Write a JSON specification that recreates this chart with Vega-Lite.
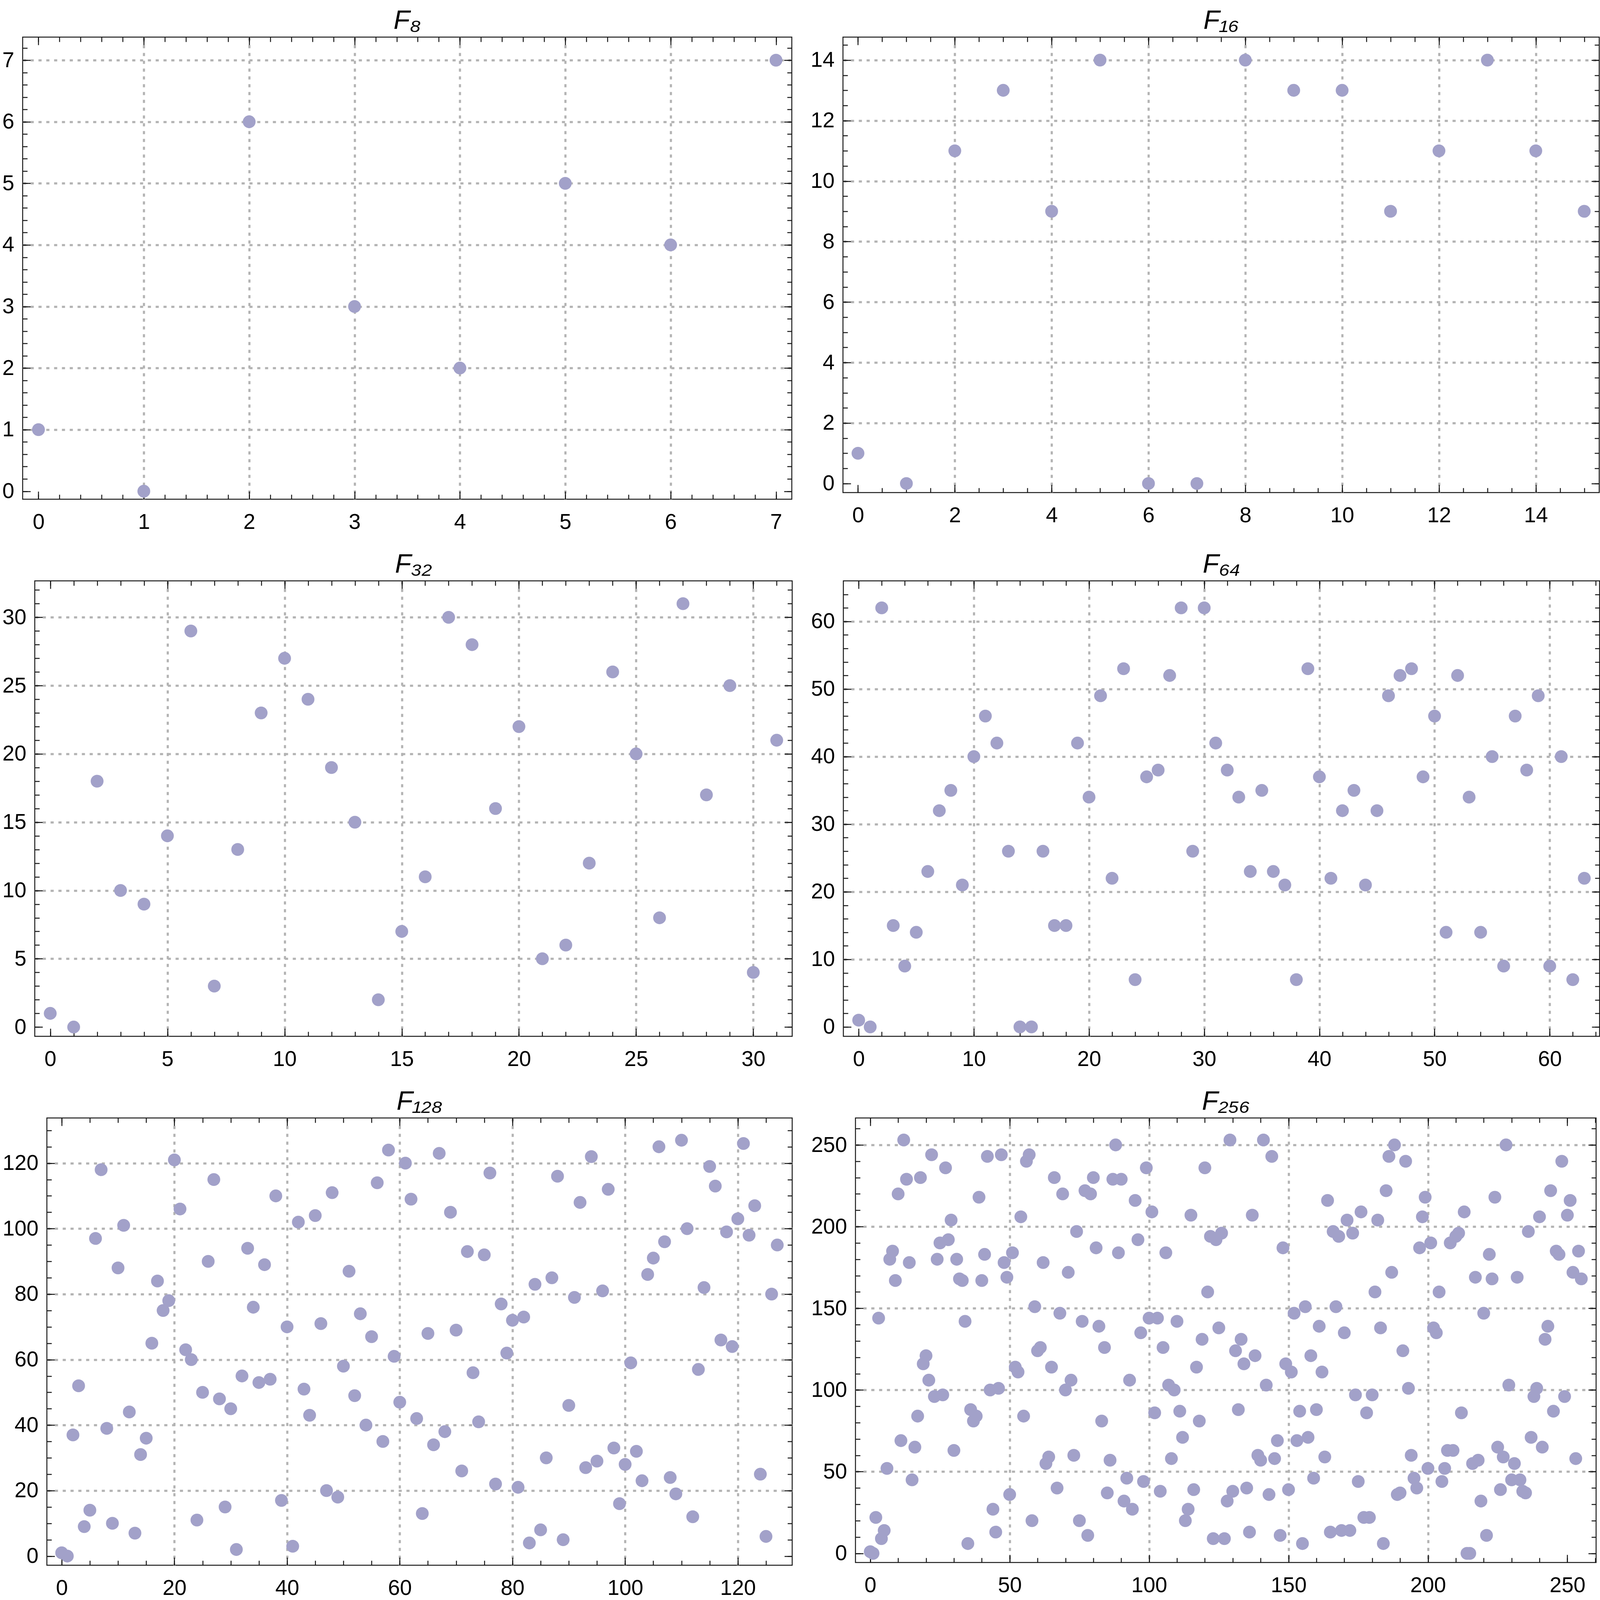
{
  "$schema": "https://vega.github.io/schema/vega-lite/v6.json",
  "background": "white",
  "padding": {"left": 3, "top": 18, "right": 0, "bottom": 0},
  "spacing": 44,
  "datasets": {
    "F8": [{"x":0,"y":1},{"x":1,"y":0},{"x":2,"y":6},{"x":3,"y":3},{"x":4,"y":2},{"x":5,"y":5},{"x":6,"y":4},{"x":7,"y":7}],
    "F16": [{"x":0,"y":1},{"x":1,"y":0},{"x":2,"y":11},{"x":3,"y":13},{"x":4,"y":9},{"x":5,"y":14},{"x":6,"y":0},{"x":7,"y":0},{"x":8,"y":14},{"x":9,"y":13},{"x":10,"y":13},{"x":11,"y":9},{"x":12,"y":11},{"x":13,"y":14},{"x":14,"y":11},{"x":15,"y":9}],
    "F32": [{"x":0,"y":1},{"x":1,"y":0},{"x":2,"y":18},{"x":3,"y":10},{"x":4,"y":9},{"x":5,"y":14},{"x":6,"y":29},{"x":7,"y":3},{"x":8,"y":13},{"x":9,"y":23},{"x":10,"y":27},{"x":11,"y":24},{"x":12,"y":19},{"x":13,"y":15},{"x":14,"y":2},{"x":15,"y":7},{"x":16,"y":11},{"x":17,"y":30},{"x":18,"y":28},{"x":19,"y":16},{"x":20,"y":22},{"x":21,"y":5},{"x":22,"y":6},{"x":23,"y":12},{"x":24,"y":26},{"x":25,"y":20},{"x":26,"y":8},{"x":27,"y":31},{"x":28,"y":17},{"x":29,"y":25},{"x":30,"y":4},{"x":31,"y":21}],
    "F64": [{"x":0,"y":1},{"x":1,"y":0},{"x":2,"y":62},{"x":3,"y":15},{"x":4,"y":9},{"x":5,"y":14},{"x":6,"y":23},{"x":7,"y":32},{"x":8,"y":35},{"x":9,"y":21},{"x":10,"y":40},{"x":11,"y":46},{"x":12,"y":42},{"x":13,"y":26},{"x":14,"y":0},{"x":15,"y":0},{"x":16,"y":26},{"x":17,"y":15},{"x":18,"y":15},{"x":19,"y":42},{"x":20,"y":34},{"x":21,"y":49},{"x":22,"y":22},{"x":23,"y":53},{"x":24,"y":7},{"x":25,"y":37},{"x":26,"y":38},{"x":27,"y":52},{"x":28,"y":62},{"x":29,"y":26},{"x":30,"y":62},{"x":31,"y":42},{"x":32,"y":38},{"x":33,"y":34},{"x":34,"y":23},{"x":35,"y":35},{"x":36,"y":23},{"x":37,"y":21},{"x":38,"y":7},{"x":39,"y":53},{"x":40,"y":37},{"x":41,"y":22},{"x":42,"y":32},{"x":43,"y":35},{"x":44,"y":21},{"x":45,"y":32},{"x":46,"y":49},{"x":47,"y":52},{"x":48,"y":53},{"x":49,"y":37},{"x":50,"y":46},{"x":51,"y":14},{"x":52,"y":52},{"x":53,"y":34},{"x":54,"y":14},{"x":55,"y":40},{"x":56,"y":9},{"x":57,"y":46},{"x":58,"y":38},{"x":59,"y":49},{"x":60,"y":9},{"x":61,"y":40},{"x":62,"y":7},{"x":63,"y":22}],
    "F128": [{"x":0,"y":1},{"x":1,"y":0},{"x":2,"y":37},{"x":3,"y":52},{"x":4,"y":9},{"x":5,"y":14},{"x":6,"y":97},{"x":7,"y":118},{"x":8,"y":39},{"x":9,"y":10},{"x":10,"y":88},{"x":11,"y":101},{"x":12,"y":44},{"x":13,"y":7},{"x":14,"y":31},{"x":15,"y":36},{"x":16,"y":65},{"x":17,"y":84},{"x":18,"y":75},{"x":19,"y":78},{"x":20,"y":121},{"x":21,"y":106},{"x":22,"y":63},{"x":23,"y":60},{"x":24,"y":11},{"x":25,"y":50},{"x":26,"y":90},{"x":27,"y":115},{"x":28,"y":48},{"x":29,"y":15},{"x":30,"y":45},{"x":31,"y":2},{"x":32,"y":55},{"x":33,"y":94},{"x":34,"y":76},{"x":35,"y":53},{"x":36,"y":89},{"x":37,"y":54},{"x":38,"y":110},{"x":39,"y":17},{"x":40,"y":70},{"x":41,"y":3},{"x":42,"y":102},{"x":43,"y":51},{"x":44,"y":43},{"x":45,"y":104},{"x":46,"y":71},{"x":47,"y":20},{"x":48,"y":111},{"x":49,"y":18},{"x":50,"y":58},{"x":51,"y":87},{"x":52,"y":49},{"x":53,"y":74},{"x":54,"y":40},{"x":55,"y":67},{"x":56,"y":114},{"x":57,"y":35},{"x":58,"y":124},{"x":59,"y":61},{"x":60,"y":47},{"x":61,"y":120},{"x":62,"y":109},{"x":63,"y":42},{"x":64,"y":13},{"x":65,"y":68},{"x":66,"y":34},{"x":67,"y":123},{"x":68,"y":38},{"x":69,"y":105},{"x":70,"y":69},{"x":71,"y":26},{"x":72,"y":93},{"x":73,"y":56},{"x":74,"y":41},{"x":75,"y":92},{"x":76,"y":117},{"x":77,"y":22},{"x":78,"y":77},{"x":79,"y":62},{"x":80,"y":72},{"x":81,"y":21},{"x":82,"y":73},{"x":83,"y":4},{"x":84,"y":83},{"x":85,"y":8},{"x":86,"y":30},{"x":87,"y":85},{"x":88,"y":116},{"x":89,"y":5},{"x":90,"y":46},{"x":91,"y":79},{"x":92,"y":108},{"x":93,"y":27},{"x":94,"y":122},{"x":95,"y":29},{"x":96,"y":81},{"x":97,"y":112},{"x":98,"y":33},{"x":99,"y":16},{"x":100,"y":28},{"x":101,"y":59},{"x":102,"y":32},{"x":103,"y":23},{"x":104,"y":86},{"x":105,"y":91},{"x":106,"y":125},{"x":107,"y":96},{"x":108,"y":24},{"x":109,"y":19},{"x":110,"y":127},{"x":111,"y":100},{"x":112,"y":12},{"x":113,"y":57},{"x":114,"y":82},{"x":115,"y":119},{"x":116,"y":113},{"x":117,"y":66},{"x":118,"y":99},{"x":119,"y":64},{"x":120,"y":103},{"x":121,"y":126},{"x":122,"y":98},{"x":123,"y":107},{"x":124,"y":25},{"x":125,"y":6},{"x":126,"y":80},{"x":127,"y":95}],
    "F256": [{"x":0,"y":1},{"x":1,"y":0},{"x":2,"y":22},{"x":3,"y":144},{"x":4,"y":9},{"x":5,"y":14},{"x":6,"y":52},{"x":7,"y":180},{"x":8,"y":185},{"x":9,"y":167},{"x":10,"y":220},{"x":11,"y":69},{"x":12,"y":253},{"x":13,"y":229},{"x":14,"y":178},{"x":15,"y":45},{"x":16,"y":65},{"x":17,"y":84},{"x":18,"y":230},{"x":19,"y":116},{"x":20,"y":121},{"x":21,"y":106},{"x":22,"y":244},{"x":23,"y":96},{"x":24,"y":180},{"x":25,"y":190},{"x":26,"y":97},{"x":27,"y":236},{"x":28,"y":192},{"x":29,"y":204},{"x":30,"y":63},{"x":31,"y":180},{"x":32,"y":168},{"x":33,"y":167},{"x":34,"y":142},{"x":35,"y":6},{"x":36,"y":88},{"x":37,"y":81},{"x":38,"y":84},{"x":39,"y":218},{"x":40,"y":167},{"x":41,"y":183},{"x":42,"y":243},{"x":43,"y":100},{"x":44,"y":27},{"x":45,"y":13},{"x":46,"y":101},{"x":47,"y":244},{"x":48,"y":178},{"x":49,"y":169},{"x":50,"y":36},{"x":51,"y":184},{"x":52,"y":114},{"x":53,"y":111},{"x":54,"y":206},{"x":55,"y":84},{"x":56,"y":240},{"x":57,"y":244},{"x":58,"y":20},{"x":59,"y":151},{"x":60,"y":124},{"x":61,"y":126},{"x":62,"y":178},{"x":63,"y":55},{"x":64,"y":59},{"x":65,"y":114},{"x":66,"y":230},{"x":67,"y":40},{"x":68,"y":147},{"x":69,"y":220},{"x":70,"y":100},{"x":71,"y":172},{"x":72,"y":106},{"x":73,"y":60},{"x":74,"y":197},{"x":75,"y":20},{"x":76,"y":142},{"x":77,"y":222},{"x":78,"y":11},{"x":79,"y":220},{"x":80,"y":230},{"x":81,"y":187},{"x":82,"y":139},{"x":83,"y":81},{"x":84,"y":126},{"x":85,"y":37},{"x":86,"y":57},{"x":87,"y":229},{"x":88,"y":250},{"x":89,"y":184},{"x":90,"y":229},{"x":91,"y":32},{"x":92,"y":46},{"x":93,"y":106},{"x":94,"y":27},{"x":95,"y":216},{"x":96,"y":192},{"x":97,"y":135},{"x":98,"y":44},{"x":99,"y":236},{"x":100,"y":144},{"x":101,"y":209},{"x":102,"y":86},{"x":103,"y":144},{"x":104,"y":38},{"x":105,"y":126},{"x":106,"y":184},{"x":107,"y":103},{"x":108,"y":58},{"x":109,"y":100},{"x":110,"y":142},{"x":111,"y":87},{"x":112,"y":71},{"x":113,"y":20},{"x":114,"y":27},{"x":115,"y":207},{"x":116,"y":39},{"x":117,"y":114},{"x":118,"y":81},{"x":119,"y":131},{"x":120,"y":236},{"x":121,"y":160},{"x":122,"y":194},{"x":123,"y":9},{"x":124,"y":192},{"x":125,"y":138},{"x":126,"y":196},{"x":127,"y":9},{"x":128,"y":32},{"x":129,"y":253},{"x":130,"y":38},{"x":131,"y":124},{"x":132,"y":88},{"x":133,"y":131},{"x":134,"y":116},{"x":135,"y":40},{"x":136,"y":13},{"x":137,"y":207},{"x":138,"y":121},{"x":139,"y":60},{"x":140,"y":57},{"x":141,"y":253},{"x":142,"y":103},{"x":143,"y":36},{"x":144,"y":243},{"x":145,"y":58},{"x":146,"y":69},{"x":147,"y":11},{"x":148,"y":187},{"x":149,"y":116},{"x":150,"y":39},{"x":151,"y":111},{"x":152,"y":147},{"x":153,"y":69},{"x":154,"y":87},{"x":155,"y":6},{"x":156,"y":151},{"x":157,"y":71},{"x":158,"y":121},{"x":159,"y":46},{"x":160,"y":88},{"x":161,"y":139},{"x":162,"y":111},{"x":163,"y":59},{"x":164,"y":216},{"x":165,"y":13},{"x":166,"y":197},{"x":167,"y":151},{"x":168,"y":194},{"x":169,"y":14},{"x":170,"y":135},{"x":171,"y":204},{"x":172,"y":14},{"x":173,"y":196},{"x":174,"y":97},{"x":175,"y":44},{"x":176,"y":209},{"x":177,"y":22},{"x":178,"y":86},{"x":179,"y":22},{"x":180,"y":97},{"x":181,"y":160},{"x":182,"y":204},{"x":183,"y":138},{"x":184,"y":6},{"x":185,"y":222},{"x":186,"y":243},{"x":187,"y":172},{"x":188,"y":250},{"x":189,"y":36},{"x":190,"y":37},{"x":191,"y":124},{"x":192,"y":240},{"x":193,"y":101},{"x":194,"y":60},{"x":195,"y":46},{"x":196,"y":40},{"x":197,"y":187},{"x":198,"y":206},{"x":199,"y":218},{"x":200,"y":52},{"x":201,"y":190},{"x":202,"y":138},{"x":203,"y":135},{"x":204,"y":160},{"x":205,"y":44},{"x":206,"y":52},{"x":207,"y":63},{"x":208,"y":190},{"x":209,"y":63},{"x":210,"y":194},{"x":211,"y":196},{"x":212,"y":86},{"x":213,"y":209},{"x":214,"y":0},{"x":215,"y":0},{"x":216,"y":55},{"x":217,"y":169},{"x":218,"y":57},{"x":219,"y":32},{"x":220,"y":147},{"x":221,"y":11},{"x":222,"y":183},{"x":223,"y":168},{"x":224,"y":218},{"x":225,"y":65},{"x":226,"y":39},{"x":227,"y":59},{"x":228,"y":250},{"x":229,"y":103},{"x":230,"y":45},{"x":231,"y":55},{"x":232,"y":169},{"x":233,"y":45},{"x":234,"y":38},{"x":235,"y":37},{"x":236,"y":197},{"x":237,"y":71},{"x":238,"y":96},{"x":239,"y":101},{"x":240,"y":206},{"x":241,"y":65},{"x":242,"y":131},{"x":243,"y":139},{"x":244,"y":222},{"x":245,"y":87},{"x":246,"y":185},{"x":247,"y":183},{"x":248,"y":240},{"x":249,"y":96},{"x":250,"y":207},{"x":251,"y":216},{"x":252,"y":172},{"x":253,"y":58},{"x":254,"y":185},{"x":255,"y":168}]
  },
  "vconcat": [
    {
      "spacing": 43,
      "hconcat": [
        {
          "spacing": 0,
          "hconcat": [
            {"width": 1, "height": 1, "data": {"values": []}, "mark": "point", "view": {"stroke": null}},
            {
              "title": "F₈",
              "width": 1969, "height": 1183,
              "data": {"name": "F8"},
              "resolve": {"axis": {"x": "independent", "y": "independent"}},
              "layer": [
                {"mark": {"type": "circle", "size": 1075, "color": "#a2a1c9", "opacity": 1},
                 "encoding": {
                   "x": {"field": "x", "type": "quantitative", "title": null, "scale": {"domain": [-0.15, 7.15], "nice": false, "zero": false}, "axis": {"orient": "bottom", "grid": true, "values": [0,1,2,3,4,5,6,7], "gridOpacity": {"condition": {"test": "datum.value <= 0 || datum.value >= 7", "value": 0}, "value": 1}}},
                   "y": {"field": "y", "type": "quantitative", "title": null, "scale": {"domain": [-0.13, 7.375], "nice": false, "zero": false}, "axis": {"orient": "left", "grid": true, "values": [0,1,2,3,4,5,6,7], "gridOpacity": {"condition": {"test": "datum.value <= 0", "value": 0}, "value": 1}}}}},
                {"mark": {"type": "circle", "opacity": 0},
                 "encoding": {
                   "x": {"field": "x", "type": "quantitative", "title": null, "scale": {"domain": [-0.15, 7.15], "nice": false, "zero": false}, "axis": {"orient": "top", "labels": false, "values": [0,1,2,3,4,5,6,7]}},
                   "y": {"field": "y", "type": "quantitative", "title": null, "scale": {"domain": [-0.13, 7.375], "nice": false, "zero": false}, "axis": {"orient": "right", "labels": false, "values": [0,1,2,3,4,5,6,7]}}}},
                {"mark": {"type": "circle", "opacity": 0},
                 "encoding": {
                   "x": {"field": "x", "type": "quantitative", "title": null, "scale": {"domain": [-0.15, 7.15], "nice": false, "zero": false}, "axis": {"orient": "bottom", "labels": false, "tickSize": -12, "values": [0,0.2,0.4,0.6,0.8,1,1.2,1.4,1.6,1.8,2,2.2,2.4,2.6,2.8,3,3.2,3.4,3.6,3.8,4,4.2,4.4,4.6,4.8,5,5.2,5.4,5.6,5.8,6,6.2,6.4,6.6,6.8,7]}},
                   "y": {"field": "y", "type": "quantitative", "title": null, "scale": {"domain": [-0.13, 7.375], "nice": false, "zero": false}, "axis": {"orient": "left", "labels": false, "tickSize": -12, "values": [0,0.2,0.4,0.6,0.8,1,1.2,1.4,1.6,1.8,2,2.2,2.4,2.6,2.8,3,3.2,3.4,3.6,3.8,4,4.2,4.4,4.6,4.8,5,5.2,5.4,5.6,5.8,6,6.2,6.4,6.6,6.8,7,7.2]}}}},
                {"mark": {"type": "circle", "opacity": 0},
                 "encoding": {
                   "x": {"field": "x", "type": "quantitative", "title": null, "scale": {"domain": [-0.15, 7.15], "nice": false, "zero": false}, "axis": {"orient": "top", "labels": false, "tickSize": -12, "values": [0,0.2,0.4,0.6,0.8,1,1.2,1.4,1.6,1.8,2,2.2,2.4,2.6,2.8,3,3.2,3.4,3.6,3.8,4,4.2,4.4,4.6,4.8,5,5.2,5.4,5.6,5.8,6,6.2,6.4,6.6,6.8,7]}},
                   "y": {"field": "y", "type": "quantitative", "title": null, "scale": {"domain": [-0.13, 7.375], "nice": false, "zero": false}, "axis": {"orient": "right", "labels": false, "tickSize": -12, "values": [0,0.2,0.4,0.6,0.8,1,1.2,1.4,1.6,1.8,2,2.2,2.4,2.6,2.8,3,3.2,3.4,3.6,3.8,4,4.2,4.4,4.6,4.8,5,5.2,5.4,5.6,5.8,6,6.2,6.4,6.6,6.8,7,7.2]}}}}
              ]
            }
          ]
        },
        {
          "title": "F₁₆",
          "width": 1936, "height": 1166,
          "data": {"name": "F16"},
          "resolve": {"axis": {"x": "independent", "y": "independent"}},
          "layer": [
            {"mark": {"type": "circle", "size": 1075, "color": "#a2a1c9", "opacity": 1},
             "encoding": {
               "x": {"field": "x", "type": "quantitative", "title": null, "scale": {"domain": [-0.31, 15.31], "nice": false, "zero": false}, "axis": {"orient": "bottom", "grid": true, "values": [0,2,4,6,8,10,12,14], "gridOpacity": {"condition": {"test": "datum.value <= 0", "value": 0}, "value": 1}}},
               "y": {"field": "y", "type": "quantitative", "title": null, "scale": {"domain": [-0.3, 14.76], "nice": false, "zero": false}, "axis": {"orient": "left", "grid": true, "values": [0,2,4,6,8,10,12,14], "gridOpacity": {"condition": {"test": "datum.value <= 0", "value": 0}, "value": 1}}}}},
            {"mark": {"type": "circle", "opacity": 0},
             "encoding": {
               "x": {"field": "x", "type": "quantitative", "title": null, "scale": {"domain": [-0.31, 15.31], "nice": false, "zero": false}, "axis": {"orient": "top", "labels": false, "values": [0,2,4,6,8,10,12,14]}},
               "y": {"field": "y", "type": "quantitative", "title": null, "scale": {"domain": [-0.3, 14.76], "nice": false, "zero": false}, "axis": {"orient": "right", "labels": false, "values": [0,2,4,6,8,10,12,14]}}}},
            {"mark": {"type": "circle", "opacity": 0},
             "encoding": {
               "x": {"field": "x", "type": "quantitative", "title": null, "scale": {"domain": [-0.31, 15.31], "nice": false, "zero": false}, "axis": {"orient": "bottom", "labels": false, "tickSize": -12, "values": [0,0.5,1,1.5,2,2.5,3,3.5,4,4.5,5,5.5,6,6.5,7,7.5,8,8.5,9,9.5,10,10.5,11,11.5,12,12.5,13,13.5,14,14.5,15]}},
               "y": {"field": "y", "type": "quantitative", "title": null, "scale": {"domain": [-0.3, 14.76], "nice": false, "zero": false}, "axis": {"orient": "left", "labels": false, "tickSize": -12, "values": [0,0.5,1,1.5,2,2.5,3,3.5,4,4.5,5,5.5,6,6.5,7,7.5,8,8.5,9,9.5,10,10.5,11,11.5,12,12.5,13,13.5,14,14.5]}}}},
            {"mark": {"type": "circle", "opacity": 0},
             "encoding": {
               "x": {"field": "x", "type": "quantitative", "title": null, "scale": {"domain": [-0.31, 15.31], "nice": false, "zero": false}, "axis": {"orient": "top", "labels": false, "tickSize": -12, "values": [0,0.5,1,1.5,2,2.5,3,3.5,4,4.5,5,5.5,6,6.5,7,7.5,8,8.5,9,9.5,10,10.5,11,11.5,12,12.5,13,13.5,14,14.5,15]}},
               "y": {"field": "y", "type": "quantitative", "title": null, "scale": {"domain": [-0.3, 14.76], "nice": false, "zero": false}, "axis": {"orient": "right", "labels": false, "tickSize": -12, "values": [0,0.5,1,1.5,2,2.5,3,3.5,4,4.5,5,5.5,6,6.5,7,7.5,8,8.5,9,9.5,10,10.5,11,11.5,12,12.5,13,13.5,14,14.5]}}}}
          ]
        }
      ]
    },
    {
      "spacing": 43,
      "hconcat": [
        {
          "spacing": 0,
          "hconcat": [
            {"width": 1, "height": 1, "data": {"values": []}, "mark": "point", "view": {"stroke": null}},
            {
              "title": "F₃₂",
              "width": 1939, "height": 1166,
              "data": {"name": "F32"},
              "resolve": {"axis": {"x": "independent", "y": "independent"}},
              "layer": [
                {"mark": {"type": "circle", "size": 1075, "color": "#a2a1c9", "opacity": 1},
                 "encoding": {
                   "x": {"field": "x", "type": "quantitative", "title": null, "scale": {"domain": [-0.66, 31.66], "nice": false, "zero": false}, "axis": {"orient": "bottom", "grid": true, "values": [0,5,10,15,20,25,30], "gridOpacity": {"condition": {"test": "datum.value <= 0", "value": 0}, "value": 1}}},
                   "y": {"field": "y", "type": "quantitative", "title": null, "scale": {"domain": [-0.68, 32.67], "nice": false, "zero": false}, "axis": {"orient": "left", "grid": true, "values": [0,5,10,15,20,25,30], "gridOpacity": {"condition": {"test": "datum.value <= 0", "value": 0}, "value": 1}}}}},
                {"mark": {"type": "circle", "opacity": 0},
                 "encoding": {
                   "x": {"field": "x", "type": "quantitative", "title": null, "scale": {"domain": [-0.66, 31.66], "nice": false, "zero": false}, "axis": {"orient": "top", "labels": false, "values": [0,5,10,15,20,25,30]}},
                   "y": {"field": "y", "type": "quantitative", "title": null, "scale": {"domain": [-0.68, 32.67], "nice": false, "zero": false}, "axis": {"orient": "right", "labels": false, "values": [0,5,10,15,20,25,30]}}}},
                {"mark": {"type": "circle", "opacity": 0},
                 "encoding": {
                   "x": {"field": "x", "type": "quantitative", "title": null, "scale": {"domain": [-0.66, 31.66], "nice": false, "zero": false}, "axis": {"orient": "bottom", "labels": false, "tickSize": -12, "values": [0,1,2,3,4,5,6,7,8,9,10,11,12,13,14,15,16,17,18,19,20,21,22,23,24,25,26,27,28,29,30,31]}},
                   "y": {"field": "y", "type": "quantitative", "title": null, "scale": {"domain": [-0.68, 32.67], "nice": false, "zero": false}, "axis": {"orient": "left", "labels": false, "tickSize": -12, "values": [0,1,2,3,4,5,6,7,8,9,10,11,12,13,14,15,16,17,18,19,20,21,22,23,24,25,26,27,28,29,30,31,32]}}}},
                {"mark": {"type": "circle", "opacity": 0},
                 "encoding": {
                   "x": {"field": "x", "type": "quantitative", "title": null, "scale": {"domain": [-0.66, 31.66], "nice": false, "zero": false}, "axis": {"orient": "top", "labels": false, "tickSize": -12, "values": [0,1,2,3,4,5,6,7,8,9,10,11,12,13,14,15,16,17,18,19,20,21,22,23,24,25,26,27,28,29,30,31]}},
                   "y": {"field": "y", "type": "quantitative", "title": null, "scale": {"domain": [-0.68, 32.67], "nice": false, "zero": false}, "axis": {"orient": "right", "labels": false, "tickSize": -12, "values": [0,1,2,3,4,5,6,7,8,9,10,11,12,13,14,15,16,17,18,19,20,21,22,23,24,25,26,27,28,29,30,31,32]}}}}
              ]
            }
          ]
        },
        {
          "title": "F₆₄",
          "width": 1936, "height": 1166,
          "data": {"name": "F64"},
          "resolve": {"axis": {"x": "independent", "y": "independent"}},
          "layer": [
            {"mark": {"type": "circle", "size": 1075, "color": "#a2a1c9", "opacity": 1},
             "encoding": {
               "x": {"field": "x", "type": "quantitative", "title": null, "scale": {"domain": [-1.33, 64.33], "nice": false, "zero": false}, "axis": {"orient": "bottom", "grid": true, "values": [0,10,20,30,40,50,60], "gridOpacity": {"condition": {"test": "datum.value <= 0", "value": 0}, "value": 1}}},
               "y": {"field": "y", "type": "quantitative", "title": null, "scale": {"domain": [-1.39, 66.0], "nice": false, "zero": false}, "axis": {"orient": "left", "grid": true, "values": [0,10,20,30,40,50,60], "gridOpacity": {"condition": {"test": "datum.value <= 0", "value": 0}, "value": 1}}}}},
            {"mark": {"type": "circle", "opacity": 0},
             "encoding": {
               "x": {"field": "x", "type": "quantitative", "title": null, "scale": {"domain": [-1.33, 64.33], "nice": false, "zero": false}, "axis": {"orient": "top", "labels": false, "values": [0,10,20,30,40,50,60]}},
               "y": {"field": "y", "type": "quantitative", "title": null, "scale": {"domain": [-1.39, 66.0], "nice": false, "zero": false}, "axis": {"orient": "right", "labels": false, "values": [0,10,20,30,40,50,60]}}}},
            {"mark": {"type": "circle", "opacity": 0},
             "encoding": {
               "x": {"field": "x", "type": "quantitative", "title": null, "scale": {"domain": [-1.33, 64.33], "nice": false, "zero": false}, "axis": {"orient": "bottom", "labels": false, "tickSize": -12, "values": [0,2,4,6,8,10,12,14,16,18,20,22,24,26,28,30,32,34,36,38,40,42,44,46,48,50,52,54,56,58,60,62,64]}},
               "y": {"field": "y", "type": "quantitative", "title": null, "scale": {"domain": [-1.39, 66.0], "nice": false, "zero": false}, "axis": {"orient": "left", "labels": false, "tickSize": -12, "values": [0,2,4,6,8,10,12,14,16,18,20,22,24,26,28,30,32,34,36,38,40,42,44,46,48,50,52,54,56,58,60,62,64]}}}},
            {"mark": {"type": "circle", "opacity": 0},
             "encoding": {
               "x": {"field": "x", "type": "quantitative", "title": null, "scale": {"domain": [-1.33, 64.33], "nice": false, "zero": false}, "axis": {"orient": "top", "labels": false, "tickSize": -12, "values": [0,2,4,6,8,10,12,14,16,18,20,22,24,26,28,30,32,34,36,38,40,42,44,46,48,50,52,54,56,58,60,62,64]}},
               "y": {"field": "y", "type": "quantitative", "title": null, "scale": {"domain": [-1.39, 66.0], "nice": false, "zero": false}, "axis": {"orient": "right", "labels": false, "tickSize": -12, "values": [0,2,4,6,8,10,12,14,16,18,20,22,24,26,28,30,32,34,36,38,40,42,44,46,48,50,52,54,56,58,60,62,64]}}}}
          ]
        }
      ]
    },
    {
      "spacing": 43,
      "hconcat": [
        {
          "spacing": 0,
          "hconcat": [
            {"width": 1, "height": 1, "data": {"values": []}, "mark": "point", "view": {"stroke": null}},
            {
              "title": "F₁₂₈",
              "width": 1908, "height": 1145,
              "data": {"name": "F128"},
              "resolve": {"axis": {"x": "independent", "y": "independent"}},
              "layer": [
                {"mark": {"type": "circle", "size": 1075, "color": "#a2a1c9", "opacity": 1},
                 "encoding": {
                   "x": {"field": "x", "type": "quantitative", "title": null, "scale": {"domain": [-2.63, 129.65], "nice": false, "zero": false}, "axis": {"orient": "bottom", "grid": true, "values": [0,20,40,60,80,100,120], "gridOpacity": {"condition": {"test": "datum.value <= 0", "value": 0}, "value": 1}}},
                   "y": {"field": "y", "type": "quantitative", "title": null, "scale": {"domain": [-2.8, 133.8], "nice": false, "zero": false}, "axis": {"orient": "left", "grid": true, "values": [0,20,40,60,80,100,120], "gridOpacity": {"condition": {"test": "datum.value <= 0", "value": 0}, "value": 1}}}}},
                {"mark": {"type": "circle", "opacity": 0},
                 "encoding": {
                   "x": {"field": "x", "type": "quantitative", "title": null, "scale": {"domain": [-2.63, 129.65], "nice": false, "zero": false}, "axis": {"orient": "top", "labels": false, "values": [0,20,40,60,80,100,120]}},
                   "y": {"field": "y", "type": "quantitative", "title": null, "scale": {"domain": [-2.8, 133.8], "nice": false, "zero": false}, "axis": {"orient": "right", "labels": false, "values": [0,20,40,60,80,100,120]}}}},
                {"mark": {"type": "circle", "opacity": 0},
                 "encoding": {
                   "x": {"field": "x", "type": "quantitative", "title": null, "scale": {"domain": [-2.63, 129.65], "nice": false, "zero": false}, "axis": {"orient": "bottom", "labels": false, "tickSize": -12, "values": [0,5,10,15,20,25,30,35,40,45,50,55,60,65,70,75,80,85,90,95,100,105,110,115,120,125]}},
                   "y": {"field": "y", "type": "quantitative", "title": null, "scale": {"domain": [-2.8, 133.8], "nice": false, "zero": false}, "axis": {"orient": "left", "labels": false, "tickSize": -12, "values": [0,5,10,15,20,25,30,35,40,45,50,55,60,65,70,75,80,85,90,95,100,105,110,115,120,125,130]}}}},
                {"mark": {"type": "circle", "opacity": 0},
                 "encoding": {
                   "x": {"field": "x", "type": "quantitative", "title": null, "scale": {"domain": [-2.63, 129.65], "nice": false, "zero": false}, "axis": {"orient": "top", "labels": false, "tickSize": -12, "values": [0,5,10,15,20,25,30,35,40,45,50,55,60,65,70,75,80,85,90,95,100,105,110,115,120,125]}},
                   "y": {"field": "y", "type": "quantitative", "title": null, "scale": {"domain": [-2.8, 133.8], "nice": false, "zero": false}, "axis": {"orient": "right", "labels": false, "tickSize": -12, "values": [0,5,10,15,20,25,30,35,40,45,50,55,60,65,70,75,80,85,90,95,100,105,110,115,120,125,130]}}}}
              ]
            }
          ]
        },
        {
          "title": "F₂₅₆",
          "width": 1896, "height": 1138,
          "data": {"name": "F256"},
          "resolve": {"axis": {"x": "independent", "y": "independent"}},
          "layer": [
            {"mark": {"type": "circle", "size": 1075, "color": "#a2a1c9", "opacity": 1},
             "encoding": {
               "x": {"field": "x", "type": "quantitative", "title": null, "scale": {"domain": [-5.3, 260.3], "nice": false, "zero": false}, "axis": {"orient": "bottom", "grid": true, "values": [0,50,100,150,200,250], "gridOpacity": {"condition": {"test": "datum.value <= 0 || datum.value >= 250", "value": 0}, "value": 1}}},
               "y": {"field": "y", "type": "quantitative", "title": null, "scale": {"domain": [-5.6, 266.5], "nice": false, "zero": false}, "axis": {"orient": "left", "grid": true, "values": [0,50,100,150,200,250], "gridOpacity": {"condition": {"test": "datum.value <= 0", "value": 0}, "value": 1}}}}},
            {"mark": {"type": "circle", "opacity": 0},
             "encoding": {
               "x": {"field": "x", "type": "quantitative", "title": null, "scale": {"domain": [-5.3, 260.3], "nice": false, "zero": false}, "axis": {"orient": "top", "labels": false, "values": [0,50,100,150,200,250]}},
               "y": {"field": "y", "type": "quantitative", "title": null, "scale": {"domain": [-5.6, 266.5], "nice": false, "zero": false}, "axis": {"orient": "right", "labels": false, "values": [0,50,100,150,200,250]}}}},
            {"mark": {"type": "circle", "opacity": 0},
             "encoding": {
               "x": {"field": "x", "type": "quantitative", "title": null, "scale": {"domain": [-5.3, 260.3], "nice": false, "zero": false}, "axis": {"orient": "bottom", "labels": false, "tickSize": -12, "values": [0,10,20,30,40,50,60,70,80,90,100,110,120,130,140,150,160,170,180,190,200,210,220,230,240,250,260]}},
               "y": {"field": "y", "type": "quantitative", "title": null, "scale": {"domain": [-5.6, 266.5], "nice": false, "zero": false}, "axis": {"orient": "left", "labels": false, "tickSize": -12, "values": [0,10,20,30,40,50,60,70,80,90,100,110,120,130,140,150,160,170,180,190,200,210,220,230,240,250,260]}}}},
            {"mark": {"type": "circle", "opacity": 0},
             "encoding": {
               "x": {"field": "x", "type": "quantitative", "title": null, "scale": {"domain": [-5.3, 260.3], "nice": false, "zero": false}, "axis": {"orient": "top", "labels": false, "tickSize": -12, "values": [0,10,20,30,40,50,60,70,80,90,100,110,120,130,140,150,160,170,180,190,200,210,220,230,240,250,260]}},
               "y": {"field": "y", "type": "quantitative", "title": null, "scale": {"domain": [-5.6, 266.5], "nice": false, "zero": false}, "axis": {"orient": "right", "labels": false, "tickSize": -12, "values": [0,10,20,30,40,50,60,70,80,90,100,110,120,130,140,150,160,170,180,190,200,210,220,230,240,250,260]}}}}
          ]
        }
      ]
    }
  ],
  "config": {
    "view": {"stroke": "#1a1a1a", "strokeWidth": 2.5},
    "axis": {
      "domain": false,
      "grid": false,
      "labelFont": "Liberation Sans",
      "labelFontSize": 55,
      "labelColor": "black",
      "labelPadding": 42,
      "labelFlush": false,
      "labelOverlap": false,
      "tickColor": "#1a1a1a",
      "tickWidth": 2.5,
      "tickSize": -20,
      "gridColor": "#b3b3b3",
      "gridWidth": 5.5,
      "gridDash": [8, 12]
    },
    "axisBottom": {"labelPadding": 52},
    "title": {
      "font": "Liberation Sans",
      "fontSize": 68,
      "fontStyle": "italic",
      "fontWeight": "normal",
      "color": "black",
      "frame": "group",
      "anchor": "middle",
      "offset": 6
    }
  }
}
